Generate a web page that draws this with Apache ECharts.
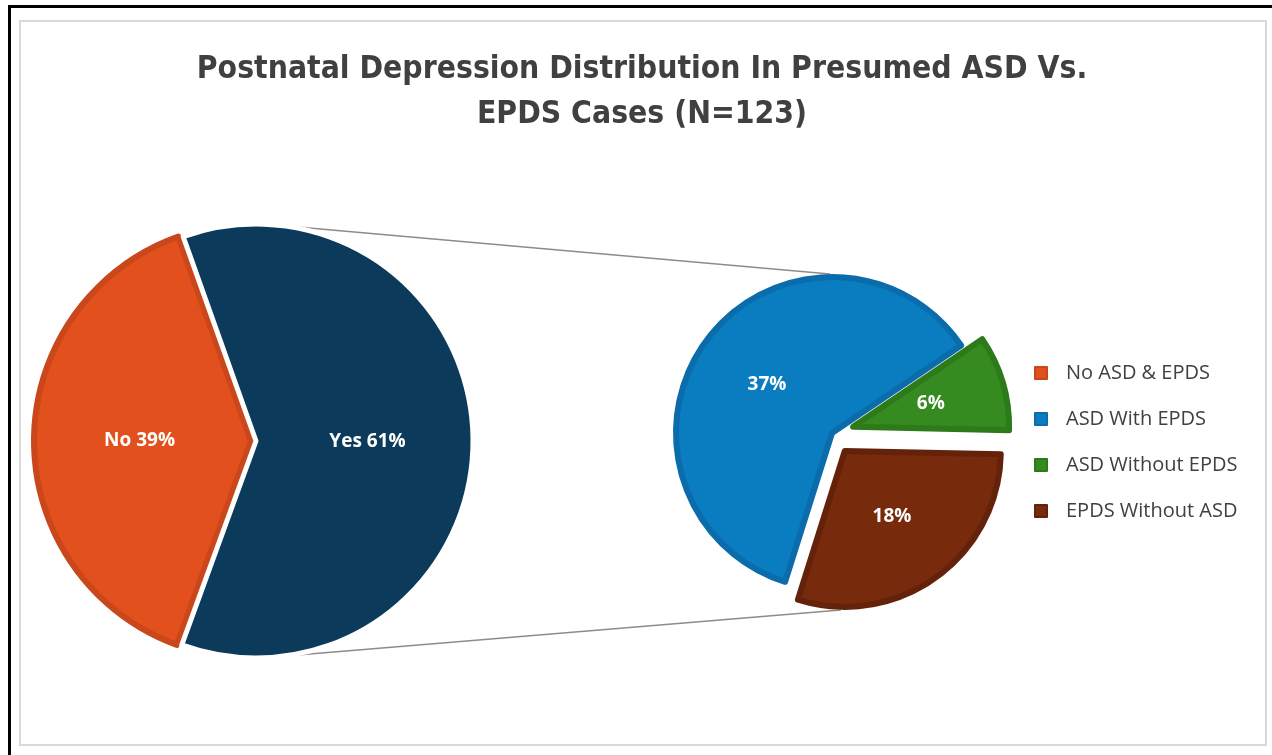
<!DOCTYPE html>
<html>
<head>
<meta charset="utf-8">
<script src="https://cdn.jsdelivr.net/npm/echarts@6/dist/echarts.min.js"></script>
<style>
  html, body { margin: 0; padding: 0; background: #ffffff; }
  #chart { position: absolute; left: 0; top: 0; width: 1272px; height: 755px; }
  #outer { position: absolute; left: 8px; top: 5px; width: 1272px; height: 760px; border-top: 3px solid #000; border-left: 3px solid #000; pointer-events: none; }
  #inner { position: absolute; left: 19px; top: 20px; width: 1244px; height: 722px; border: 2px solid #d9d9d9; pointer-events: none; }
</style>
</head>
<body>
<div id="chart"></div>
<div id="outer"></div>
<div id="inner"></div>
<script>
// ---- data ----
const titleLines = ['Postnatal Depression Distribution In Presumed ASD Vs.', 'EPDS Cases (N=123)'];
const mainNames = ['No ASD & EPDS', 'Yes'];
const mainLabels = ['No', 'Yes'];
const mainValues = [39, 61];
const subNames = ['ASD With EPDS', 'ASD Without EPDS', 'EPDS Without ASD'];
const subValues = [37, 6, 18];
const legendNames = ['No ASD & EPDS', 'ASD With EPDS', 'ASD Without EPDS', 'EPDS Without ASD'];

// ---- styles ----
const mainColors = ['#E1501D', '#0B3A5B'];
const mainBorders = ['#C9471A', '#ffffff'];
const mainBorderW = [6, 5];
const subColors = ['#0A7CC0', '#358A20', '#782A0C'];
const subBorders = ['#0A6CAB', '#2C7A1A', '#64220A'];

const L = { cx: 256, cy: 441, r: 217, start: 250, offset: 5 };
const R = { cx: 832, cy: 433, r: 156, start: 252.5, offset: 22 };
const connectorAngle = 11; // degrees from vertical on main pie

const chart = echarts.init(document.getElementById('chart'), null, { renderer: 'canvas' });

const mainData = mainNames.map((n, i) => ({
  name: n,
  value: mainValues[i],
  selected: i === 0,
  itemStyle: { color: mainColors[i], borderColor: mainBorders[i], borderWidth: mainBorderW[i] },
  label: { formatter: mainLabels[i] + ' ' + mainValues[i] + '%' }
}));
const subData = subNames.map((n, i) => ({
  name: n,
  value: subValues[i],
  selected: i > 0,
  itemStyle: { color: subColors[i], borderColor: subBorders[i], borderWidth: 6 }
}));

// connector lines derived from pie geometry
function polar(c, r, degFromTop) {
  const a = degFromTop * Math.PI / 180;
  return [c[0] + r * Math.sin(a), c[1] - r * Math.cos(a)];
}
const total = subValues.reduce((a, b) => a + b, 0);
const startTop = 90 - R.start; // clockwise-from-top start angle
let acc = startTop;
const subMid = subValues.map(v => { const s = acc; acc += v / total * 360; return (s + acc) / 2; });
const brownShift = polar([0, 0], R.offset, subMid[2]);
const topLeft = polar([L.cx, L.cy], L.r + 1, connectorAngle);
const botLeft = polar([L.cx, L.cy], L.r + 1, 180 - connectorAngle);
const topRight = [R.cx - 2, R.cy - R.r - 3];
const botRight = [R.cx + brownShift[0] - 4, R.cy + brownShift[1] + R.r + 3];

chart.setOption({
  animation: false,
  backgroundColor: '#ffffff',
  title: {
    text: titleLines.join('\n'),
    left: 637,
    textAlign: 'center',
    top: 42,
    textStyle: {
      fontFamily: '"Liberation Sans Narrow", "DejaVu Sans Condensed", "DejaVu Sans", sans-serif',
      fontWeight: 'bold',
      fontSize: 31.6,
      lineHeight: 45,
      color: '#404040'
    }
  },
  legend: {
    data: legendNames,
    orient: 'vertical',
    left: 1029,
    top: 358,
    icon: 'rect',
    itemWidth: 12,
    itemHeight: 12,
    itemGap: 26,
    selectedMode: false,
    textStyle: {
      fontFamily: '"Open Sans", sans-serif',
      fontSize: 20,
      color: '#404040',
      lineHeight: 20,
      padding: [0, 0, 0, 14]
    }
  },
  graphic: [
    { type: 'line', shape: { x1: topLeft[0], y1: topLeft[1], x2: topRight[0], y2: topRight[1] }, style: { stroke: '#8c8c8c', lineWidth: 1.5 }, z: 0 },
    { type: 'line', shape: { x1: botLeft[0], y1: botLeft[1], x2: botRight[0], y2: botRight[1] }, style: { stroke: '#8c8c8c', lineWidth: 1.5 }, z: 0 }
  ],
  series: [
    {
      type: 'pie',
      center: [L.cx, L.cy],
      radius: [0, L.r],
      startAngle: L.start,
      clockwise: true,
      selectedMode: 'multiple',
      selectedOffset: L.offset,
      emphasis: { disabled: true },
      select: { itemStyle: {} },
      label: {
        show: true,
        position: 'inside',
        color: '#ffffff',
        fontFamily: '"Open Sans", sans-serif',
        fontWeight: 'bold',
        fontSize: 19
      },
      labelLine: { show: false },
      data: mainData,
      z: 2
    },
    {
      type: 'pie',
      center: [R.cx, R.cy],
      radius: [0, R.r],
      startAngle: R.start,
      clockwise: true,
      selectedMode: 'multiple',
      selectedOffset: R.offset,
      emphasis: { disabled: true },
      select: { itemStyle: {} },
      label: {
        show: true,
        position: 'inside',
        color: '#ffffff',
        fontFamily: '"Open Sans", sans-serif',
        fontWeight: 'bold',
        fontSize: 19,
        formatter: p => p.value + '%'
      },
      labelLine: { show: false },
      data: subData,
      z: 2
    }
  ]
});
</script>
</body>
</html>
